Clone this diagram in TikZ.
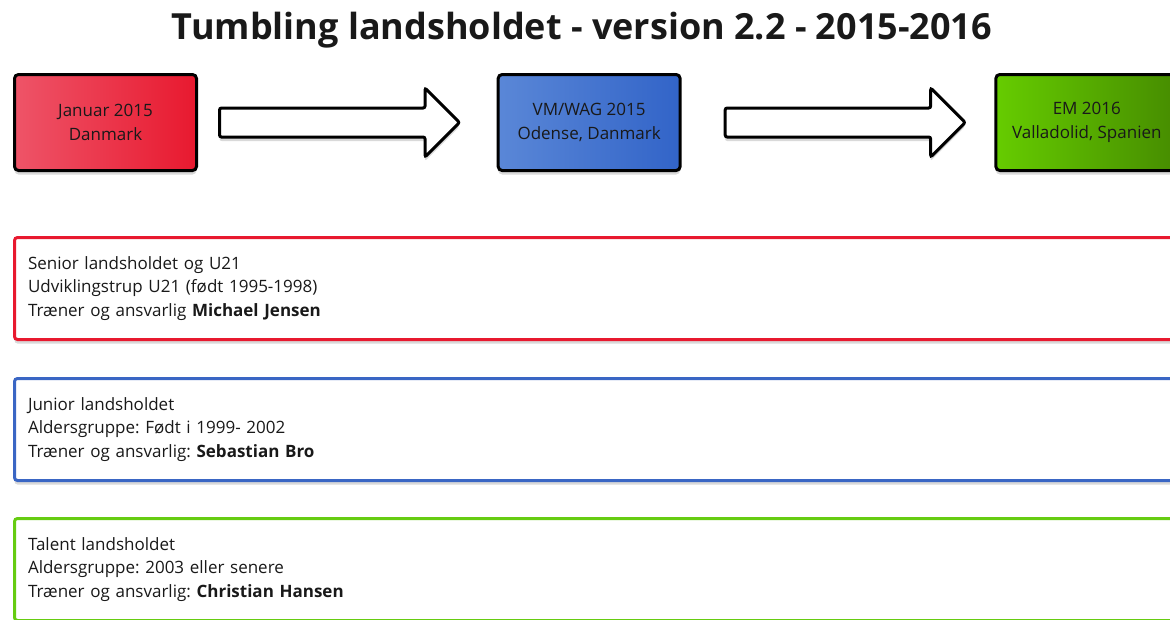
\documentclass[tikz,border=0pt]{standalone}
\usepackage{fontspec}
\setmainfont{Open Sans}
\usetikzlibrary{positioning, shapes.arrows, shadows}
\frenchspacing

\definecolor{danred}{HTML}{E8192F}
\definecolor{danredlight}{HTML}{EE5468}
\definecolor{vmblue}{HTML}{3264C8}
\definecolor{vmbluelight}{HTML}{5A87D7}
\definecolor{emgreen}{HTML}{468C00}
\definecolor{emgreenlight}{HTML}{66CC00}
\definecolor{teamblue}{HTML}{3A66C4}
\definecolor{teamgreen}{HTML}{66CC11}

\begin{document}
\begin{tikzpicture}[
    x=1pt, y=-1pt,
    every node/.style={text=black!90, font=\fontsize{17}{23.5}\selectfont},
    event/.style={rectangle, draw=black, line width=3pt, rounded corners=4pt, minimum width=182pt, minimum height=96pt, align=center,
        drop shadow={opacity=0.3, shadow xshift=0pt, shadow yshift=-4pt}},
    pil/.style={single arrow, draw=black, fill=white, line width=3pt, rounded corners=2pt, minimum height=240pt, minimum width=66pt,
        inner xsep=0pt, inner ysep=13pt, single arrow head extend=20pt, drop shadow={opacity=0.3, shadow xshift=0pt, shadow yshift=-4pt}},
    team/.style={rectangle, line width=3pt, rounded corners=3pt, fill=white, minimum width=1167pt, minimum height=102pt,
        text width=1140pt, align=left, inner xsep=13.5pt, drop shadow={opacity=0.3, shadow xshift=0pt, shadow yshift=-4pt}}
]
\useasboundingbox (0,0) rectangle (1170,619);

% Title
\node (titel) at (582,30) {\fontsize{36}{40}\selectfont\bfseries Tumbling landsholdet - version 2.2 - 2015-2016};

% Events
\node (jan) [event, left color=danredlight, right color=danred] at (105.5,122.5) {Januar 2015\\Danmark};
\node (pil1) [pil, right=20pt of jan] {};
\node (vm) [event, left color=vmbluelight, right color=vmblue, right=35pt of pil1] {VM/WAG 2015\\Odense, Danmark};
\node (pil2) [pil, right=42pt of vm] {};
\node (em) [event, left color=emgreenlight, right color=emgreen, right=27pt of pil2] {EM 2016\\Valladolid, Spanien};

% Teams
\node (senior) [team, draw=danred, below=64pt of jan.south west, anchor=north west] {Senior landsholdet og U21\\Udviklingstrup U21 (født 1995-1998)\\Træner og ansvarlig \textbf{Michael Jensen}};
\node (junior) [team, draw=teamblue, below=36pt of senior] {Junior landsholdet\\Aldersgruppe: Født i 1999- 2002\\Træner og ansvarlig: \textbf{Sebastian Bro}};
\node (talent) [team, draw=teamgreen, below=35pt of junior] {Talent landsholdet\\Aldersgruppe: 2003 eller senere\\Træner og ansvarlig: \textbf{Christian Hansen}};

\end{tikzpicture}
\end{document}
